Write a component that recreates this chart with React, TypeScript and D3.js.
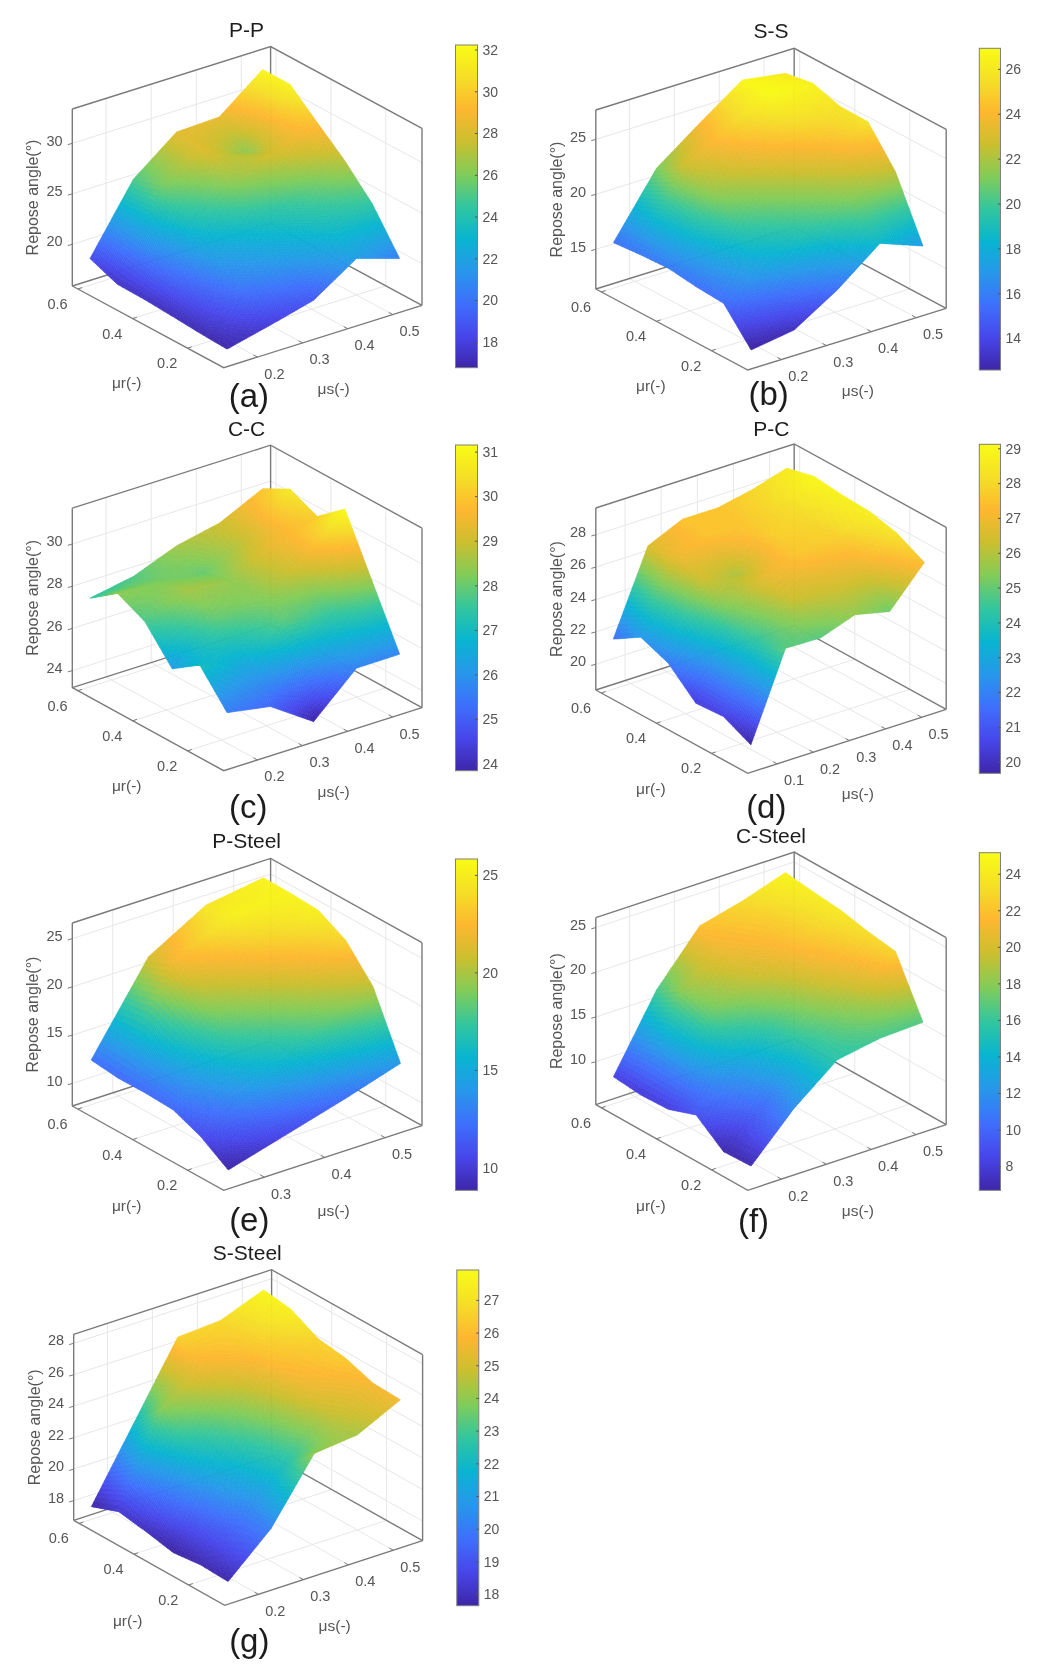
import React, { useEffect, useRef } from "react";
import * as d3 from "d3";

// friction coefficient nodes
const urNodes = [0.1, 0.2, 0.3, 0.4, 0.5, 0.6];
const usNodes4 = [0.255, 0.35, 0.445, 0.54];
const usNodes5 = [0.152, 0.248, 0.344, 0.439, 0.535];
const usNodes6 = [0.052, 0.148, 0.244, 0.34, 0.436, 0.532];

// repose angle, one row per ur node
const zPP = [
  [16.86, 17.89, 19.0, 21.8, 20.45],
  [16.99, 20.3, 21.8, 23.5, 24.41],
  [17.19, 21.8, 23.5, 25.0, 27.2],
  [17.36, 23.5, 26.5, 28.0, 29.5],
  [17.42, 25.8, 28.2, 26.3, 31.84],
  [18.5, 24.99, 28.33, 28.5, 31.84],
];
const zSS = [
  [12.44, 13.04, 15.46, 18.49, 17.03],
  [15.35, 17.66, 19.5, 21.3, 22.46],
  [15.53, 19.66, 21.48, 23.3, 25.67],
  [15.86, 21.66, 23.48, 25.3, 25.7],
  [15.74, 22.8, 24.8, 26.9, 26.49],
  [15.53, 21.07, 23.95, 26.67, 26.06],
];
const zCC = [
  [25.53, 25.17, 23.8, 25.69, 25.7],
  [27.08, 26.5, 27.9, 27.5, 28.44],
  [26.18, 28.0, 28.3, 29.2, 31.16],
  [27.71, 28.6, 28.4, 29.5, 30.09],
  [28.34, 28.2, 28.0, 29.0, 30.68],
  [27.39, 27.77, 28.57, 29.0, 29.98],
];
const zPC = [
  [19.63, 24.91, 24.84, 25.59, 25.1, 27.44],
  [20.45, 24.3, 26.3, 26.5, 26.8, 28.32],
  [20.34, 25.0, 26.9, 27.6, 27.8, 28.73],
  [21.88, 26.4, 25.9, 27.8, 28.0, 28.82],
  [22.55, 27.0, 27.5, 27.6, 28.2, 29.02],
  [21.5, 26.57, 27.53, 27.52, 27.96, 28.6],
];
const zPSteel = [
  [8.81, 10.49, 12.18, 14.04],
  [10.68, 14.76, 17.87, 20.39],
  [11.86, 17.3, 20.4, 23.64],
  [12.0, 19.84, 22.96, 25.16],
  [11.97, 22.39, 25.2, 25.31],
  [12.29, 21.05, 24.46, 25.35],
];
const zCSteel = [
  [6.9, 11.77, 15.59, 16.42, 16.62],
  [6.77, 10.5, 15.8, 18.5, 22.79],
  [9.14, 12.5, 17.0, 20.8, 23.29],
  [8.03, 17.3, 19.6, 21.8, 23.97],
  [7.9, 18.5, 21.0, 22.3, 24.29],
  [8.21, 16.32, 21.89, 23.09, 24.68],
];
const zSSteel = [
  [17.69, 20.19, 24.06, 24.33, 25.67],
  [17.77, 20.0, 22.5, 24.9, 25.75],
  [17.57, 20.8, 23.0, 25.5, 26.36],
  [17.93, 22.0, 24.0, 26.0, 26.61],
  [18.22, 24.0, 25.6, 26.4, 27.51],
  [17.56, 22.05, 26.54, 26.71, 27.76],
];

const urTicks = [0.2, 0.4, 0.6];
const usTicks = [0.2, 0.3, 0.4, 0.5];
const usTicksPC = [0.1, 0.2, 0.3, 0.4, 0.5];
const usTicksPSteel = [0.3, 0.4, 0.5];
const urLim = [0.068, 0.62];

// parula
const parulaStops = [0, 0.1, 0.2, 0.3, 0.4, 0.5, 0.6, 0.7, 0.8, 0.9, 1];
const parulaColors = ["#3e26a8", "#4746eb", "#3e6ffc", "#2797eb", "#08b5d0", "#32c69f", "#81cc59", "#cbbf2e", "#fdb72f", "#f5df26", "#f9fb15"];
const parula = d3.scaleLinear<string>().domain(parulaStops).range(parulaColors).clamp(true);

const panels = [
  {
    title: "P-P", tag: "(a)", z: zPP, us: usNodes5, usLim: [0.125, 0.565], zLim: [15.87, 33.4], cLim: [16.79, 32.24],
    zTicks: [20, 25, 30], usTicks, cTicks: d3.range(18, 33, 2),
    front: [223.7, 367.7], left: [72.3, 286], right: [422, 305.3], h: 177,
    bar: [455.5, 45, 22, 322.7], titlePos: [246.6, 37], tagPos: [248.9, 407],
  },
  {
    title: "S-S", tag: "(b)", z: zSS, us: usNodes5, usLim: [0.125, 0.567], zLim: [11.39, 27.67], cLim: [12.6, 26.94],
    zTicks: [15, 20, 25], usTicks, cTicks: d3.range(14, 27, 2),
    front: [747.8, 370], left: [595.8, 289], right: [946.2, 308.3], h: 179,
    bar: [979.3, 48.3, 21.2, 321.7], titlePos: [771, 38.3], tagPos: [768.7, 405],
  },
  {
    title: "C-C", tag: "(c)", z: zCC, us: usNodes5, usLim: [0.125, 0.565], zLim: [23.19, 31.7], cLim: [23.85, 31.16],
    zTicks: [24, 26, 28, 30], usTicks, cTicks: d3.range(24, 32, 1),
    front: [223.7, 770.7], left: [72.3, 687.7], right: [422, 707.7], h: 179.5,
    bar: [455.5, 445, 22, 325.7], titlePos: [246.6, 435.7], tagPos: [248.3, 817.7],
  },
  {
    title: "P-C", tag: "(d)", z: zPC, us: usNodes6, usLim: [0.019, 0.568], zLim: [18.41, 29.65], cLim: [19.68, 29.13],
    zTicks: [20, 22, 24, 26, 28], usTicks: usTicksPC, cTicks: d3.range(20, 30, 1),
    front: [747.8, 773.3], left: [595.8, 690], right: [946.2, 709.3], h: 182,
    bar: [979.3, 444.3, 21.2, 329], titlePos: [771.3, 435.7], tagPos: [766.3, 817.7],
  },
  {
    title: "P-Steel", tag: "(e)", z: zPSteel, us: usNodes4, usLim: [0.233, 0.561], zLim: [7.66, 26.62], cLim: [8.85, 25.84],
    zTicks: [10, 15, 20, 25], usTicks: usTicksPSteel, cTicks: [10, 15, 20, 25],
    front: [223.7, 1190.3], left: [72.3, 1106], right: [422, 1125.7], h: 183,
    bar: [455.5, 859, 22, 331.3], titlePos: [246.6, 848.3], tagPos: [249.3, 1230.5],
  },
  {
    title: "C-Steel", tag: "(f)", z: zCSteel, us: usNodes5, usLim: [0.125, 0.567], zLim: [5.19, 26.1], cLim: [6.7, 25.18],
    zTicks: [10, 15, 20, 25], usTicks, cTicks: d3.range(8, 25, 2),
    front: [747.8, 1190.3], left: [595.8, 1104.7], right: [946.2, 1124.7], h: 187,
    bar: [979.3, 852.7, 21.2, 337.6], titlePos: [771, 842.7], tagPos: [753.5, 1232],
  },
  {
    title: "S-Steel", tag: "(g)", z: zSSteel, us: usNodes5, usLim: [0.125, 0.565], zLim: [16.75, 28.57], cLim: [17.66, 27.93],
    zTicks: [18, 20, 22, 24, 26, 28], usTicks, cTicks: d3.range(18, 28, 1),
    front: [224.7, 1605.3], left: [73.7, 1520.3], right: [422.6, 1540.7], h: 186,
    bar: [456.8, 1270, 22, 335.7], titlePos: [247.3, 1260], tagPos: [249.3, 1652],
  },
];

const FONT = "'Liberation Sans', Arial, sans-serif";
const SUB = 20;

const drawPanel = (svg: any, p: any) => {
  const sx = d3.scaleLinear().domain(p.usLim).range([0, 1]);
  const sy = d3.scaleLinear().domain(urLim).range([0, 1]);
  const sz = d3.scaleLinear().domain(p.zLim).range([0, p.h]);
  const color = d3.scaleLinear().domain(p.cLim).range([0, 1]);

  const project = (us: number, ur: number, z: number) => {
    const a = sx(us);
    const b = sy(ur);
    return [
      p.front[0] + a * (p.right[0] - p.front[0]) + b * (p.left[0] - p.front[0]),
      p.front[1] + a * (p.right[1] - p.front[1]) + b * (p.left[1] - p.front[1]) - sz(z),
    ];
  };

  const [usMin, usMax] = p.usLim;
  const [urMin, urMax] = urLim;
  const [zMin, zMax] = p.zLim;
  const g = svg.append("g");

  const line = (pts: number[][], stroke: string, width: number) =>
    g
      .append("path")
      .attr("d", d3.line()(pts as any))
      .attr("fill", "none")
      .attr("stroke", stroke)
      .attr("stroke-width", width);

  // grid on walls and floor
  const gridColor = "#e7e7e7";
  p.zTicks.forEach((t: number) =>
    line([project(usMin, urMax, t), project(usMax, urMax, t), project(usMax, urMin, t)], gridColor, 1)
  );
  p.usTicks.forEach((t: number) =>
    line([project(t, urMin, zMin), project(t, urMax, zMin), project(t, urMax, zMax)], gridColor, 1)
  );
  urTicks.forEach((t: number) =>
    line([project(usMin, t, zMin), project(usMax, t, zMin), project(usMax, t, zMax)], gridColor, 1)
  );

  // box
  const boxColor = "#7a7a7a";
  line([project(usMin, urMax, zMax), project(usMax, urMax, zMax), project(usMax, urMin, zMax)], boxColor, 1.4);
  line([project(usMin, urMax, zMin), project(usMin, urMax, zMax)], boxColor, 1.4);
  line([project(usMax, urMin, zMin), project(usMax, urMin, zMax)], boxColor, 1.4);
  line([project(usMax, urMax, zMin), project(usMax, urMax, zMax)], boxColor, 1.4);
  line([project(usMin, urMax, zMin), project(usMin, urMin, zMin), project(usMax, urMin, zMin)], boxColor, 1.4);
  line([project(usMin, urMax, zMin), project(usMax, urMax, zMin), project(usMax, urMin, zMin)], boxColor, 1.4);

  // surface, back cells first, each cell split up for the interpolated shading
  const cells: any[] = [];
  for (let j = urNodes.length - 2; j >= 0; j--) {
    for (let i = p.us.length - 2; i >= 0; i--) {
      for (let m = SUB - 1; m >= 0; m--) {
        for (let n = SUB - 1; n >= 0; n--) {
          const at = (a: number, b: number) => {
            const u = a / SUB;
            const v = b / SUB;
            const z =
              (1 - u) * (1 - v) * p.z[j][i] +
              u * (1 - v) * p.z[j][i + 1] +
              (1 - u) * v * p.z[j + 1][i] +
              u * v * p.z[j + 1][i + 1];
            const us = p.us[i] + u * (p.us[i + 1] - p.us[i]);
            const ur = urNodes[j] + v * (urNodes[j + 1] - urNodes[j]);
            return { z, pt: project(us, ur, z) };
          };
          const corners = [at(n, m), at(n + 1, m), at(n + 1, m + 1), at(n, m + 1)];
          cells.push({
            d: d3.line().digits(1)(corners.map((c) => c.pt) as any) + "Z",
            fill: parula(color(d3.mean(corners, (c) => c.z) as number)),
          });
        }
      }
    }
  }
  g.append("g")
    .selectAll("path")
    .data(cells)
    .join("path")
    .attr("d", (d: any) => d.d)
    .attr("fill", (d: any) => d.fill)
    .attr("stroke", (d: any) => d.fill)
    .attr("stroke-width", 0.6);

  const text = (x: number, y: number, str: string, size: number, fill: string, anchor = "middle") =>
    g
      .append("text")
      .attr("x", x)
      .attr("y", y)
      .attr("font-family", FONT)
      .attr("font-size", size)
      .attr("fill", fill)
      .attr("text-anchor", anchor)
      .text(str);

  const tickText = "#555555";
  const tickLen = 4.5;

  // z axis
  const usPx = tickLen / Math.hypot(p.right[0] - p.front[0], p.right[1] - p.front[1]);
  const urPx = tickLen / Math.hypot(p.left[0] - p.front[0], p.left[1] - p.front[1]);
  const usSpan = usMax - usMin;
  const urSpan = urMax - urMin;
  p.zTicks.forEach((t: number) => {
    const a = project(usMin, urMax, t);
    line([a, [a[0] - tickLen, a[1] + 1.3]], boxColor, 1);
    text(a[0] - 9.6, a[1] + 2.2, String(t), 14.5, tickText, "end");
  });
  // us axis
  p.usTicks.forEach((t: number) => {
    const a = project(t, urMin, zMin);
    line([a, project(t, urMin + urPx * urSpan, zMin)], boxColor, 1);
    text(a[0] + 16.9, a[1] + 21.5, d3.format(".1f")(t), 14.5, tickText);
  });
  // ur axis
  urTicks.forEach((t: number) => {
    const a = project(usMin, t, zMin);
    line([a, project(usMin + usPx * usSpan, t, zMin)], boxColor, 1);
    text(a[0] - 20.3, a[1] + 20, d3.format(".1f")(t), 14.5, tickText);
  });

  text(p.front[0] - 97, p.front[1] + 20.5, "μr(-)", 15.5, tickText);
  text(p.front[0] + 110, p.front[1] + 26, "μs(-)", 15.5, tickText);
  g.append("text")
    .attr("transform", `translate(${p.left[0] - 34},${p.left[1] - p.h / 2}) rotate(-90)`)
    .attr("font-family", FONT)
    .attr("font-size", 16)
    .attr("fill", tickText)
    .attr("text-anchor", "middle")
    .text("Repose angle(°)");

  text(p.titlePos[0], p.titlePos[1], p.title, 21, "#1c1c1c");
  text(p.tagPos[0], p.tagPos[1], p.tag, 33, "#1c1c1c");

  // colorbar
  const [bx, by, bw, bh] = p.bar;
  const barY = d3.scaleLinear().domain(p.cLim).range([by + bh, by]);
  g.append("rect")
    .attr("x", bx)
    .attr("y", by)
    .attr("width", bw)
    .attr("height", bh)
    .attr("fill", "url(#parula)")
    .attr("stroke", "#7f7f7f")
    .attr("stroke-width", 1);
  p.cTicks.forEach((t: number) => {
    line([[bx + bw - 2.5, barY(t)], [bx + bw, barY(t)]], "#555555", 1);
    text(bx + bw + 5, barY(t) + 4.8, String(t), 14, tickText, "start");
  });
};

const App = () => {
  const ref = useRef<SVGSVGElement>(null);

  useEffect(() => {
    const svg = d3.select(ref.current);
    svg.selectAll("*").remove();

    const grad = svg
      .append("defs")
      .append("linearGradient")
      .attr("id", "parula")
      .attr("x1", 0)
      .attr("y1", 1)
      .attr("x2", 0)
      .attr("y2", 0);
    parulaStops.forEach((s, i) => grad.append("stop").attr("offset", s).attr("stop-color", parulaColors[i]));

    panels.forEach((p) => drawPanel(svg, p));
  }, []);

  return (
    <svg
      ref={ref}
      width={1057}
      height={1677}
      style={{ position: "absolute", left: 0, top: 0, background: "#fff", filter: "blur(0.7px)" }}
    />
  );
};

export default App;
